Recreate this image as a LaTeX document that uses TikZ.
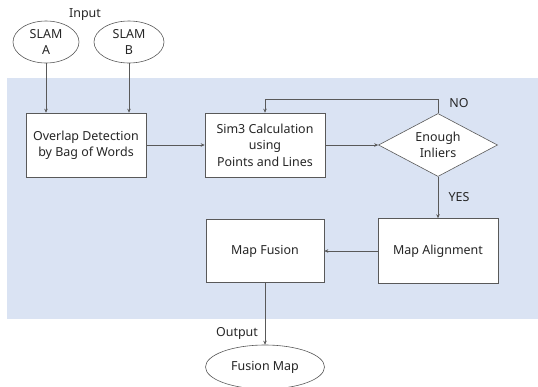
\documentclass[tikz,border=0pt]{standalone}
\usepackage{fontspec}
\setmainfont{Noto Sans}
\usetikzlibrary{shapes.geometric,arrows.meta}
\definecolor{panelblue}{HTML}{DAE3F3}
\definecolor{edgegray}{HTML}{595959}
\begin{document}
\begin{tikzpicture}[x=1bp,y=-1bp,
  every node/.style={font=\fontsize{12.5}{16.5}\selectfont, text=black!85},
  procbox/.style={draw=edgegray, line width=0.6pt, fill=white, rectangle,
    minimum width=120bp, minimum height=64bp, align=center, inner sep=1pt},
  terminal/.style={draw=edgegray, line width=0.6pt, fill=white, ellipse,
    minimum height=42bp, align=center, inner sep=0pt},
  decision/.style={draw=edgegray, line width=0.6pt, fill=white, diamond,
    aspect=1.9, minimum width=119bp, minimum height=63bp, align=center, inner sep=0pt},
  arr/.style={draw=edgegray, line width=0.6pt, -{Stealth[length=4pt,width=3.5pt]}},
  tag/.style={inner sep=0pt}
]
\useasboundingbox (0,0) rectangle (538,386);
% shaded processing region
\fill[panelblue] (7,78) rectangle (538,319);

% inputs
\node[tag] (input) at (85,15) {Input};
\node[terminal, minimum width=66bp] (slamA) at (46,42) {SLAM\\A};
\node[terminal, minimum width=70bp] (slamB) at (129,42) {SLAM\\B};

% processing steps
\node[procbox] (overlap) at (86,145) {Overlap Detection\\by Bag of Words};
\node[procbox] (sim3) at (265,145) {Sim3 Calculation\\using\\Points and Lines};
\node[decision] (enough) at (438,145) {Enough\\Inliers};
\node[procbox, minimum height=65bp] (align) at (438,251) {Map Alignment};
\node[procbox, minimum width=118bp, minimum height=63bp] (fusion) at (265,251) {Map Fusion};

% output
\node[tag] (output) at (237,333) {Output};
\node[terminal, minimum width=119bp, minimum height=44bp] (fmap) at (265,367) {Fusion Map};

% branch labels
\node[tag] (no) at (459,103) {NO};
\node[tag] (yes) at (459,197) {YES};

% connectors
\draw[arr] (slamA.south) -- (slamA.south |- overlap.north);
\draw[arr] (slamB.south) -- (slamB.south |- overlap.north);
\draw[arr] (overlap.east) -- (sim3.west);
\draw[arr] (sim3.east) -- (enough.west);
\draw[arr] (enough.north) -- ++(0,-14) -| (sim3.north);
\draw[arr] (enough.south) -- (align.north);
\draw[arr] (align.west) -- (fusion.east);
\draw[arr] (fusion.south) -- (fmap.north);
\end{tikzpicture}
\end{document}
